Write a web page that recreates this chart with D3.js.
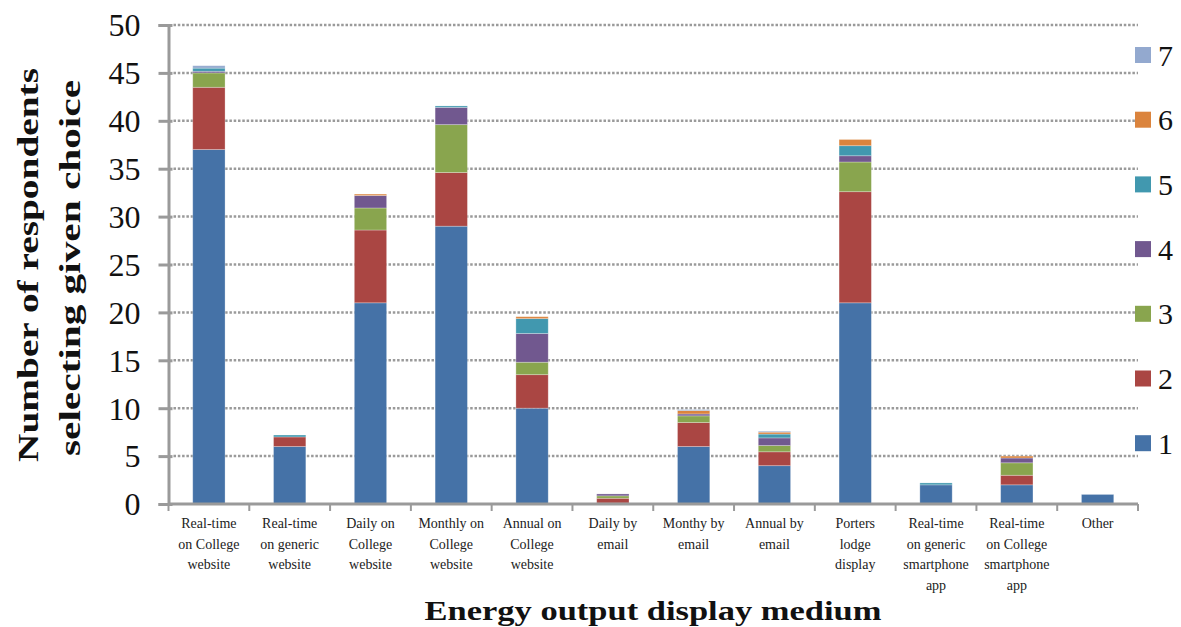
<!DOCTYPE html>
<html>
<head>
<meta charset="utf-8">
<script src="https://cdn.jsdelivr.net/npm/d3@7/dist/d3.min.js"></script>
<style>
  html, body { margin: 0; padding: 0; background: #fff; }
  svg { display: block; font-family: "Liberation Serif", "DejaVu Serif", serif; }
</style>
</head>
<body>
<svg id="chart" width="1181" height="627"></svg>
<script>
// Display media surveyed
const categories = [
  ["Real-time", "on College", "website"],
  ["Real-time", "on generic", "website"],
  ["Daily on", "College", "website"],
  ["Monthly on", "College", "website"],
  ["Annual on", "College", "website"],
  ["Daily by", "email"],
  ["Monthy by", "email"],
  ["Annual by", "email"],
  ["Porters", "lodge", "display"],
  ["Real-time", "on generic", "smartphone", "app"],
  ["Real-time", "on College", "smartphone", "app"],
  ["Other"]
];

// Respondents per preference rank (1 = first choice ... 7)
const rank1 = [37, 6, 21, 29, 10, 0.1, 6, 4, 21, 2, 2, 1];
const rank2 = [6.5, 1, 7.6, 5.6, 3.5, 0.5, 2.5, 1.45, 11.6, 0, 1, 0];
const rank3 = [1.5, 0, 2.3, 5.0, 1.3, 0.25, 0.7, 0.65, 3.1, 0, 1.3, 0];
const rank4 = [0.17, 0, 1.3, 1.8, 3.0, 0.2, 0.2, 0.8, 0.65, 0, 0.5, 0];
const rank5 = [0.33, 0.2, 0, 0.15, 1.55, 0, 0, 0.4, 1.05, 0.2, 0, 0];
const rank6 = [0, 0, 0.15, 0, 0.2, 0, 0.35, 0.2, 0.65, 0, 0.2, 0];
const rank7 = [0.25, 0, 0, 0, 0, 0, 0.1, 0.1, 0, 0, 0, 0];

const seriesNames = ["1", "2", "3", "4", "5", "6", "7"];
const yTicks = [0, 5, 10, 15, 20, 25, 30, 35, 40, 45, 50];

const seriesValues = [rank1, rank2, rank3, rank4, rank5, rank6, rank7];
const colors = ["#4572A7", "#AA4643", "#89A54E", "#71588F", "#4198AF", "#DB843D", "#93A9CF"];

const rows = categories.map((c, i) => {
  const r = { key: i };
  seriesNames.forEach((s, j) => { r[s] = seriesValues[j][i]; });
  return r;
});

const svg = d3.select("#chart");
const plotLeft = 168.5, plotRight = 1138, plotTop = 25, plotBottom = 504;

const x = d3.scaleBand()
  .domain(d3.range(categories.length))
  .range([plotLeft, plotRight])
  .paddingInner(0.6)
  .paddingOuter(0.3);

const y = d3.scaleLinear().domain([0, 50]).range([plotBottom, plotTop]);

const gray = "#9a9a9a";

// dotted gridlines
svg.append("g")
  .selectAll("line")
  .data(yTicks.filter(d => d > 0))
  .join("line")
  .attr("x1", plotLeft + 5)
  .attr("x2", plotRight)
  .attr("y1", d => y(d))
  .attr("y2", d => y(d))
  .attr("stroke", gray)
  .attr("stroke-width", 2.5)
  .attr("stroke-dasharray", "2.5,1.8");

// stacked bars
const stack = d3.stack().keys(seriesNames)(rows);
svg.append("g")
  .selectAll("g")
  .data(stack)
  .join("g")
  .attr("fill", (d, i) => colors[i])
  .selectAll("rect")
  .data(d => d.filter(p => p[1] - p[0] > 0))
  .join("rect")
  .attr("x", d => x(d.data.key))
  .attr("width", x.bandwidth())
  .attr("y", d => y(d[1]))
  .attr("height", d => y(d[0]) - y(d[1]))
  .attr("stroke", "rgba(255,255,255,0.35)")
  .attr("stroke-width", 0.8);

// y axis
const yAxis = d3.axisLeft(y)
  .tickValues(yTicks)
  .tickSize(10)
  .tickPadding(18)
  .tickFormat(d3.format("d"));
const gy = svg.append("g")
  .attr("transform", `translate(${plotLeft},0)`)
  .call(yAxis);
gy.select(".domain").attr("stroke", gray).attr("stroke-width", 3);
gy.selectAll(".tick line").attr("stroke", gray).attr("stroke-width", 3).attr("x2", -10).attr("x1", 4);
gy.selectAll(".tick text")
  .attr("font-family", "Liberation Serif, serif")
  .attr("font-size", 32)
  .attr("fill", "#111")
  .attr("dy", "0.34em");

// x axis line and boundary ticks
const gx = svg.append("g");
gx.append("line")
  .attr("x1", plotLeft).attr("x2", plotRight)
  .attr("y1", plotBottom).attr("y2", plotBottom)
  .attr("stroke", gray).attr("stroke-width", 3);
const bounds = d3.range(categories.length + 1).map(i => plotLeft + i * x.step());
gx.selectAll("line.tk")
  .data(bounds)
  .join("line")
  .attr("class", "tk")
  .attr("x1", d => d).attr("x2", d => d)
  .attr("y1", plotBottom).attr("y2", plotBottom + 7)
  .attr("stroke", gray).attr("stroke-width", 2);

// category labels
svg.append("g")
  .selectAll("text")
  .data(categories)
  .join("text")
  .attr("x", (d, i) => x(i) + x.bandwidth() / 2)
  .attr("y", 528)
  .attr("text-anchor", "middle")
  .attr("font-size", 14)
  .attr("fill", "#222")
  .each(function (d) {
    const t = d3.select(this);
    d.forEach((line, k) => {
      t.append("tspan")
        .attr("x", t.attr("x"))
        .attr("dy", k === 0 ? 0 : 20.5)
        .text(line);
    });
  });

// legend
const legend = svg.append("g");
const legendItems = seriesNames.map((s, i) => ({ name: s, color: colors[i] })).reverse();
legend.selectAll("rect")
  .data(legendItems)
  .join("rect")
  .attr("x", 1135)
  .attr("y", (d, i) => 47 + i * 64.7)
  .attr("width", 16)
  .attr("height", 16)
  .attr("fill", d => d.color);
legend.selectAll("text")
  .data(legendItems)
  .join("text")
  .attr("x", 1158)
  .attr("y", (d, i) => 55 + i * 64.7)
  .attr("dy", "0.35em")
  .attr("font-size", 30)
  .attr("fill", "#111")
  .text(d => d.name);

// axis titles
svg.append("text")
  .attr("x", 653)
  .attr("y", 620)
  .attr("text-anchor", "middle")
  .attr("font-size", 28)
  .attr("font-weight", "bold")
  .attr("fill", "#111")
  .attr("textLength", 457)
  .attr("lengthAdjust", "spacingAndGlyphs")
  .text("Energy output display medium");

const yt = svg.append("g").attr("transform", "translate(0,265) rotate(-90)");
yt.append("text")
  .attr("x", 0).attr("y", 38)
  .attr("text-anchor", "middle")
  .attr("font-size", 30)
  .attr("font-weight", "bold")
  .attr("fill", "#111")
  .attr("textLength", 394)
  .attr("lengthAdjust", "spacingAndGlyphs")
  .text("Number of respondents");
yt.append("text")
  .attr("x", -3).attr("y", 80)
  .attr("text-anchor", "middle")
  .attr("font-size", 30)
  .attr("font-weight", "bold")
  .attr("fill", "#111")
  .attr("textLength", 376)
  .attr("lengthAdjust", "spacingAndGlyphs")
  .text("selecting given choice");
</script>
</body>
</html>
